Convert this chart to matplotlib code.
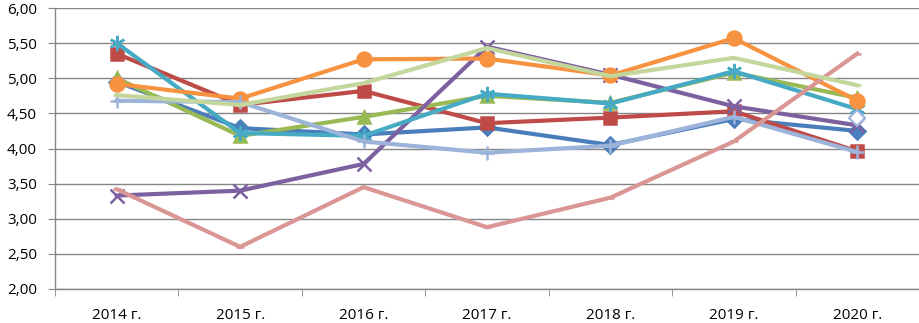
import matplotlib
matplotlib.use("Agg")
from matplotlib import pyplot as plt
from matplotlib.ticker import FixedLocator, FuncFormatter
import numpy as np

years = ["2014 г.", "2015 г.", "2016 г.", "2017 г.", "2018 г.", "2019 г.", "2020 г."]

blue = [4.95, 4.29, 4.20, 4.30, 4.05, 4.42, 4.25]
red = [5.35, 4.62, 4.82, 4.36, 4.44, 4.53, 3.96]
green = [5.00, 4.18, 4.45, 4.75, 4.65, 5.08, 4.72]
purple = [3.33, 3.40, 3.78, 5.45, 5.05, 4.60, 4.33]
cyan = [5.50, 4.22, 4.18, 4.78, 4.64, 5.10, 4.56]
orange = [4.92, 4.71, 5.27, 5.28, 5.04, 5.57, 4.68]
lightblue = [4.68, 4.66, 4.10, 3.94, 4.04, 4.45, 3.95]
pink = [3.42, 2.60, 3.45, 2.88, 3.30, 4.10, 5.35]
lightgreen = [4.76, 4.62, 4.93, 5.43, 5.03, 5.29, 4.90]
extra = [np.nan, np.nan, np.nan, np.nan, np.nan, np.nan, 4.44]

series = [
    (blue, "#4A7EBB", "D", 8),
    (red, "#BE4B48", "s", 9),
    (green, "#98B954", "^", 9),
    (purple, "#7D60A0", "x", 10),
    (cyan, "#46AAC5", (6, 2, 0), 11),
    (orange, "#F69240", "o", 10),
    (lightblue, "#9DB4DA", "+", 10),
    (pink, "#DA9694", "_", 6),
    (lightgreen, "#C3D69B", "_", 6),
]

plt.rcParams["font.family"] = ["Open Sans", "DejaVu Sans"]

fig = plt.figure(figsize=(9.19, 3.23), dpi=100)
ax = fig.add_axes([55 / 919, 1 - 289 / 323, 864 / 919, 281 / 323])

x = np.arange(len(years))
for vals, col, mk, ms in series:
    ax.plot(x, vals, color=col, lw=3.0, marker=mk, markersize=ms,
            markerfacecolor=col, markeredgecolor=col, markeredgewidth=1.8,
            solid_joinstyle="miter", zorder=3)
ax.plot(x, extra, color="#9DB4DA", lw=0, marker="D", markersize=8,
        markerfacecolor="white", markeredgecolor="#9DB4DA",
        markeredgewidth=1.6, zorder=3)

ax.set_xlim(-0.5, len(years) - 0.5)
ax.set_ylim(2.0, 6.0)
ax.yaxis.set_major_locator(FixedLocator(np.arange(2.0, 6.01, 0.5)))
ax.yaxis.set_major_formatter(FuncFormatter(lambda v, p: f"{v:.2f}".replace(".", ",")))
ax.set_xticks(x)
ax.set_xticklabels(years)
ax.xaxis.set_minor_locator(FixedLocator(np.arange(-0.5, len(years), 1.0)))

ax.grid(axis="y", color="#868686", lw=1.0, zorder=1)
for s in ["top", "right"]:
    ax.spines[s].set_visible(False)
for s in ["left", "bottom"]:
    ax.spines[s].set_color("#868686")
    ax.spines[s].set_linewidth(1.0)

ax.tick_params(axis="y", length=5, color="#868686", labelsize=11, pad=8)
ax.tick_params(axis="x", which="major", length=0, labelsize=11, pad=14)
ax.tick_params(axis="x", which="minor", length=5, color="#868686")

fig.savefig("out.png", dpi=100)
